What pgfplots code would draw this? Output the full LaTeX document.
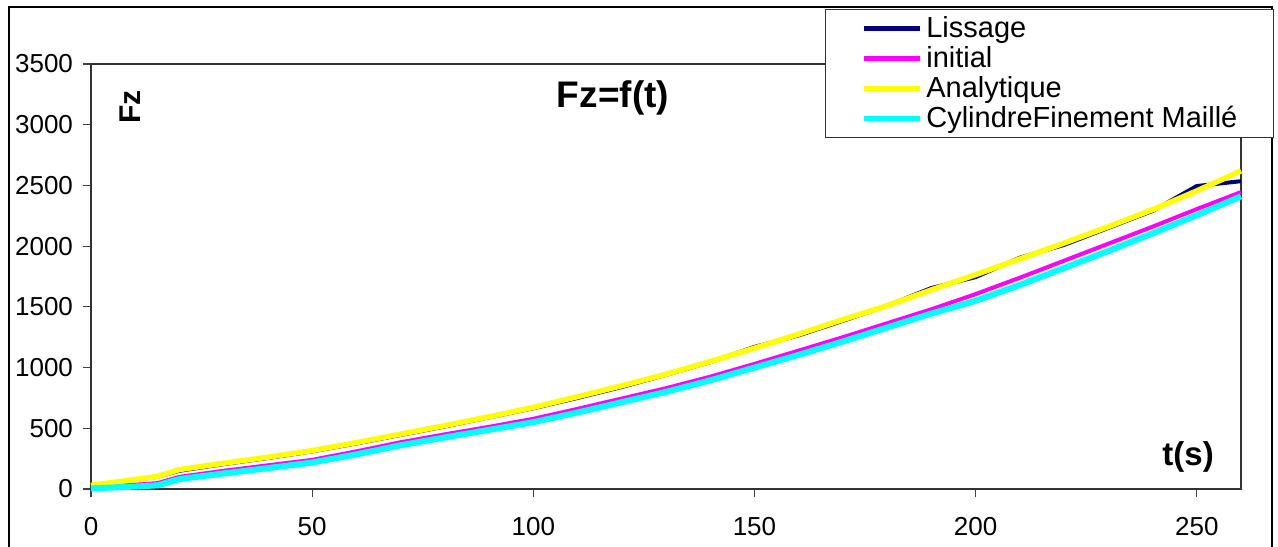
\documentclass[border=0pt]{standalone}
\usepackage{fontspec}
\setmainfont{Liberation Sans}
\usepackage{pgfplots}
\pgfplotsset{compat=1.18}
\definecolor{lnavy}{RGB}{0,0,128}
\definecolor{lmag}{RGB}{255,0,255}
\definecolor{lyel}{RGB}{255,255,0}
\definecolor{lcyan}{RGB}{0,255,255}
\begin{document}
\begin{tikzpicture}
\path[use as bounding box] (0,0) rectangle (639pt,273pt);
\draw[line width=0.75pt] (4.5pt,-5pt) -- (4.5pt,269.5pt) -- (636pt,269.5pt) -- (636pt,-5pt);
\begin{axis}[
  at={(45.5pt,28.5pt)}, anchor=south west,
  scale only axis, width=575pt, height=212.5pt,
  xmin=0, xmax=260, ymin=0, ymax=3500,
  xtick={0,50,100,150,200,250},
  ytick={0,500,1000,1500,2000,2500,3000,3500},
  tick align=outside, major tick length=4pt,
  tick style={black!75, line width=0.6pt},
  axis line style={black!80, line width=0.75pt},
  xtick pos=bottom, ytick pos=left,
  /pgf/number format/assume math mode=true,
  /pgf/number format/set thousands separator={},
  tick label style={font=\fontsize{13}{13}\selectfont},
  xticklabel style={yshift=-6.5pt},
  yticklabel style={xshift=-1.5pt},
  clip=false,
  legend style={at={(1.0287,1.1294)}, anchor=north east,
    draw=black!80, line width=0.6pt, inner xsep=18pt, inner ysep=2pt,
    font=\fontsize{14.5}{15}\selectfont,
    nodes={inner sep=0pt, text height=12pt, text depth=3pt, line width=0.6pt}},
  legend cell align=left,
  legend image code/.code={\draw[#1,line width=2.5pt] (0pt,0pt) -- (28pt,0pt);\path (31pt,0pt);},
]
\addplot[lnavy, line width=2pt, forget plot] coordinates {
(0,30) (5,50) (10,75) (15,100) (20,150) (30,205) (40,255) (50,310) (60,375) (70,445) (80,515) (90,590) (100,665) (110,750) (120,840) (130,940) (140,1045) (150,1170) (160,1265) (170,1385) (180,1510) (190,1655) (200,1745) (210,1905) (220,2010) (230,2150) (240,2290) (250,2495) (260,2535)};
\addplot[lmag, line width=2pt, forget plot] coordinates {
(0,15) (10,35) (15,48) (20,100) (30,150) (40,195) (50,240) (60,310) (70,385) (80,450) (90,512) (100,578) (110,660) (120,745) (130,830) (140,925) (150,1030) (160,1140) (170,1250) (180,1365) (190,1480) (200,1605) (210,1740) (220,1880) (230,2020) (240,2160) (250,2305) (260,2445)};
\addplot[lyel, line width=2.7pt, forget plot] coordinates {
(0,30) (5,55) (10,78) (15,103) (20,160) (30,212) (40,262) (50,316) (60,382) (70,452) (80,522) (90,595) (100,672) (110,760) (120,850) (130,945) (140,1050) (150,1160) (160,1275) (170,1395) (180,1510) (190,1640) (200,1765) (210,1895) (220,2025) (230,2160) (240,2300) (250,2455) (260,2620)};
\addplot[lcyan, line width=3pt, forget plot] coordinates {
(0,5) (10,20) (15,30) (20,82) (30,128) (40,172) (50,218) (60,285) (70,360) (80,425) (90,487) (100,550) (110,630) (120,715) (130,800) (140,895) (150,1000) (160,1105) (170,1215) (180,1330) (190,1445) (200,1550) (210,1680) (220,1820) (230,1960) (240,2105) (250,2255) (260,2410)};
\addlegendimage{lnavy}
\addlegendentry{Lissage}
\addlegendimage{lmag}
\addlegendentry{initial}
\addlegendimage{lyel}
\addlegendentry{Analytique}
\addlegendimage{lcyan}
\addlegendentry{CylindreFinement Maillé}
\node[font=\fontsize{18.5}{18.5}\selectfont\bfseries] at (rel axis cs:0.4539,0.92) {Fz=f(t)};
\node[font=\fontsize{15}{15}\selectfont\bfseries, rotate=90] at (rel axis cs:0.0339,0.8988) {Fz};
\node[font=\fontsize{16.5}{16.5}\selectfont\bfseries] at (rel axis cs:0.954,0.0753) {t(s)};
\end{axis}
\end{tikzpicture}
\end{document}
